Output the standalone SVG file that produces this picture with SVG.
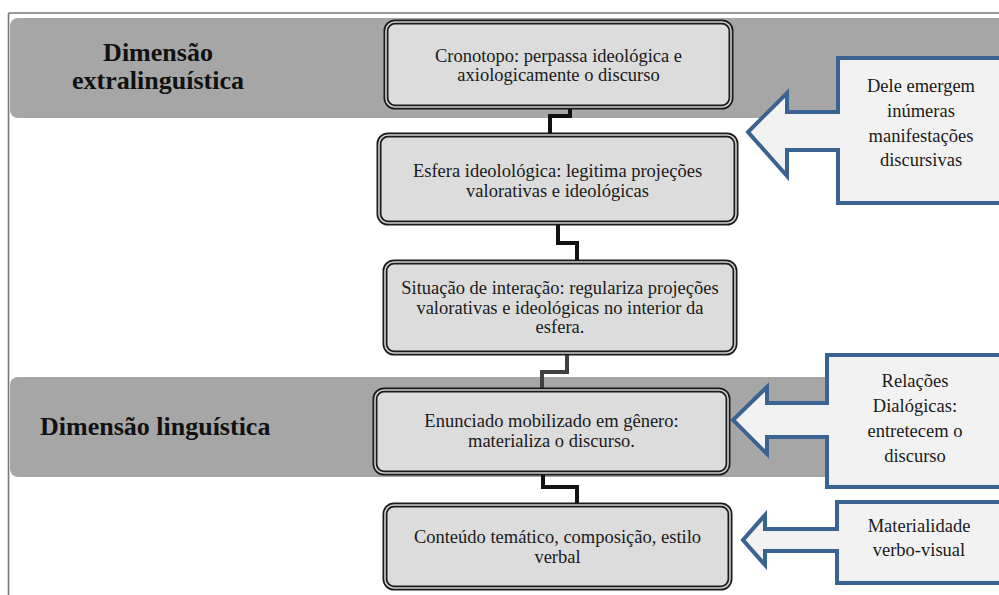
<svg xmlns="http://www.w3.org/2000/svg" width="999" height="595" viewBox="0 0 999 595">
<style>
  .band { fill: #a6a6a6; }
  .frame { stroke: #777777; stroke-width: 1.6; fill: none; }
  .box-outer { fill: #dcdcdc; stroke: #1a1a1a; stroke-width: 5; }
  .box-inner { fill: none; stroke: #cfcfcf; stroke-width: 1.6; }
  .txt { font-family: "Liberation Serif", "Times New Roman", serif; font-size: 18.5px; fill: #1a1a1a; text-anchor: middle; }
  .head { font-family: "Liberation Serif", "Times New Roman", serif; font-size: 26px; font-weight: bold; fill: #111111; }
  .conn { fill: none; stroke: #111111; stroke-width: 4; stroke-linejoin: miter; stroke-linecap: butt; }
  .conn-gray { fill: none; stroke: #404040; stroke-width: 4; stroke-linejoin: miter; stroke-linecap: butt; }
  .callout { fill: #f2f2f2; stroke: #3b6392; stroke-width: 4; stroke-linejoin: miter; }
</style>

<g id="frame">
  <line class="frame" x1="8.5" y1="13" x2="999" y2="13"/>
  <line class="frame" x1="8.5" y1="13" x2="8.5" y2="595"/>
</g>

<g id="band-extralinguistica">
  <rect class="band" x="10" y="18" width="1000" height="100" rx="8"/>
  <text class="head" x="158" y="61" text-anchor="middle">Dimensão</text>
  <text class="head" x="158" y="89" text-anchor="middle">extralinguística</text>
</g>

<g id="band-linguistica">
  <rect class="band" x="10" y="377" width="1000" height="100" rx="8"/>
  <text class="head" x="40" y="435">Dimensão linguística</text>
</g>

<g id="connectors">
  <polyline class="conn" points="570,109 570,116 550,116 550,133"/>
  <polyline class="conn" points="558,225 558,243 577,243 577,260"/>
  <polyline class="conn-gray" points="567,355 567,372 542,372 542,388"/>
  <polyline class="conn" points="543,475 543,487 577,487 577,503"/>
</g>

<g id="node-cronotopo">
  <rect class="box-outer" x="386" y="22" width="345" height="85" rx="9"/>
  <rect class="box-inner" x="386" y="22" width="345" height="85" rx="9"/>
  <text class="txt" x="558.5" y="61.5">Cronotopo: perpassa ideológica e</text>
  <text class="txt" x="558.5" y="81">axiologicamente o discurso</text>
</g>

<g id="node-esfera">
  <rect class="box-outer" x="379" y="135" width="357" height="88" rx="9"/>
  <rect class="box-inner" x="379" y="135" width="357" height="88" rx="9"/>
  <text class="txt" x="557.5" y="177">Esfera ideolológica: legitima projeções</text>
  <text class="txt" x="557.5" y="196.5">valorativas e ideológicas</text>
</g>

<g id="node-situacao">
  <rect class="box-outer" x="385" y="262" width="350" height="91" rx="9"/>
  <rect class="box-inner" x="385" y="262" width="350" height="91" rx="9"/>
  <text class="txt" x="560" y="294">Situação de interação: regulariza projeções</text>
  <text class="txt" x="560" y="313.5">valorativas e ideológicas no interior da</text>
  <text class="txt" x="560" y="333">esfera.</text>
</g>

<g id="node-enunciado">
  <rect class="box-outer" x="375" y="390" width="353" height="83" rx="9"/>
  <rect class="box-inner" x="375" y="390" width="353" height="83" rx="9"/>
  <text class="txt" x="551.5" y="427">Enunciado mobilizado em gênero:</text>
  <text class="txt" x="551.5" y="446.5">materializa o discurso.</text>
</g>

<g id="node-conteudo">
  <rect class="box-outer" x="385" y="505" width="345" height="83" rx="9"/>
  <rect class="box-inner" x="385" y="505" width="345" height="83" rx="9"/>
  <text class="txt" x="557.5" y="543">Conteúdo temático, composição, estilo</text>
  <text class="txt" x="557.5" y="562.5">verbal</text>
</g>

<g id="callout-manifestacoes">
  <polygon class="callout" points="1010,58 838,58 838,112 787,112 787,93 748,132 787,176 787,150 838,150 838,203 1010,203"/>
  <text class="txt" x="921" y="92">Dele emergem</text>
  <text class="txt" x="921" y="117">inúmeras</text>
  <text class="txt" x="921" y="142">manifestações</text>
  <text class="txt" x="921" y="166">discursivas</text>
</g>

<g id="callout-relacoes">
  <polygon class="callout" points="1010,355 827,355 827,403 767,403 767,387 733,420 767,454 767,437 827,437 827,487 1010,487"/>
  <text class="txt" x="915" y="387">Relações</text>
  <text class="txt" x="915" y="412">Dialógicas:</text>
  <text class="txt" x="915" y="437">entretecem o</text>
  <text class="txt" x="915" y="462">discurso</text>
</g>

<g id="callout-materialidade">
  <polygon class="callout" points="1010,502 837,502 837,529 765,529 765,515 743,540 765,565 765,551 837,551 837,583 1010,583"/>
  <text class="txt" x="919" y="532">Materialidade</text>
  <text class="txt" x="919" y="556">verbo-visual</text>
</g>
</svg>
